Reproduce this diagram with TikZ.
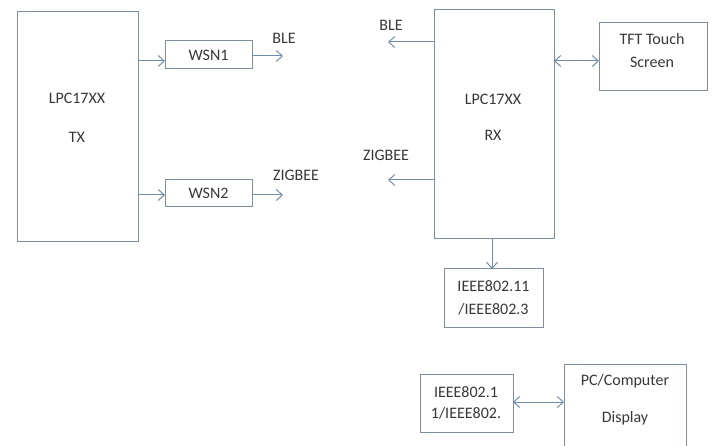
\documentclass[tikz,border=0pt]{standalone}
\usepackage{fontspec}
\setmainfont{Carlito}
\usetikzlibrary{arrows.meta}
\definecolor{boxc}{HTML}{7F8E9A}
\definecolor{arrc}{HTML}{6E8EAC}
\definecolor{txtc}{HTML}{383838}
\begin{document}
\begin{tikzpicture}[x=1pt,y=-1pt,
  blk/.style={draw=boxc, line width=1pt, inner sep=0pt, outer sep=0pt, text=txtc, align=center, font=\fontsize{16}{23}\selectfont},
  lbl/.style={text=txtc, inner sep=0pt, font=\fontsize{16}{18}\selectfont},
  arr/.style={draw=arrc, line width=1pt, -{Straight Barb[length=6pt,width=11pt]}},
  darr/.style={draw=arrc, line width=1pt, {Straight Barb[length=6pt,width=11pt]}-{Straight Barb[length=6pt,width=11pt]}}]
\clip (0,0) rectangle (712,446);
\fill[white] (0,0) rectangle (712,446);
% TX side
\node[blk, minimum width=121pt, minimum height=230pt, anchor=north west] (tx) at (17,12) {};
\node[lbl] (txt1) at (77,98) {LPC17XX};
\node[lbl] (txt2) at (77,137) {TX};
\node[blk, minimum width=87pt, minimum height=28pt, anchor=north west] (w1) at (165,41) {WSN1};
\node[blk, minimum width=87pt, minimum height=27pt, anchor=north west] (w2) at (165,180) {WSN2};
\coordinate (w1o) at (283,56);
\coordinate (w2o) at (283,195);
\draw[arr] (tx.east |- 0,61) -- (w1.west |- 0,61);
\draw[arr] (tx.east |- 0,195) -- (w2.west |- 0,195);
\draw[arr] (w1.east |- w1o) -- (w1o);
\draw[arr] (w2.east |- w2o) -- (w2o);
\node[lbl] (ble1) at (284,38) {BLE};
\node[lbl] (zig1) at (296,175) {ZIGBEE};
% RX side
\node[blk, minimum width=120pt, minimum height=229pt, anchor=north west] (rx) at (434,10) {};
\node[lbl] (rxt1) at (493,99) {LPC17XX};
\node[lbl] (rxt2) at (493,135) {RX};
\coordinate (ble2o) at (388,42);
\coordinate (zig2o) at (388,180);
\draw[arr] (rx.west |- ble2o) -- (ble2o);
\draw[arr] (rx.west |- zig2o) -- (zig2o);
\node[lbl] (ble2) at (391,25) {BLE};
\node[lbl] (zig2) at (386,155) {ZIGBEE};
\node[blk, minimum width=108pt, minimum height=68pt, anchor=north west] (tft) at (599,23) {};
\node[lbl] (tftt1) at (652,39) {TFT Touch};
\node[lbl] (tftt2) at (652,62) {Screen};
\draw[darr] (rx.east |- 0,61) -- (tft.west |- 0,61);
\node[blk, minimum width=99pt, minimum height=58pt, anchor=north west] (ieee1) at (444,269) {IEEE802.11\\/IEEE802.3};
\draw[arr] (492,239) -- (ieee1.north -| 492,0);
\node[blk, minimum width=93pt, minimum height=58pt, anchor=north west] (ieee2) at (420,374) {};
\node[lbl] (ie2t1) at (466,392) {IEEE802.1};
\node[lbl] (ie2t2) at (466,413) {1/IEEE802.};
\node[blk, minimum width=122pt, minimum height=90pt, anchor=north west] (pc) at (564,364) {};
\node[lbl] (pct1) at (625,381) {PC/Computer};
\node[lbl] (pct2) at (625,418) {Display};
\draw[darr] (ieee2.east |- 0,402) -- (pc.west |- 0,402);
\end{tikzpicture}
\end{document}
